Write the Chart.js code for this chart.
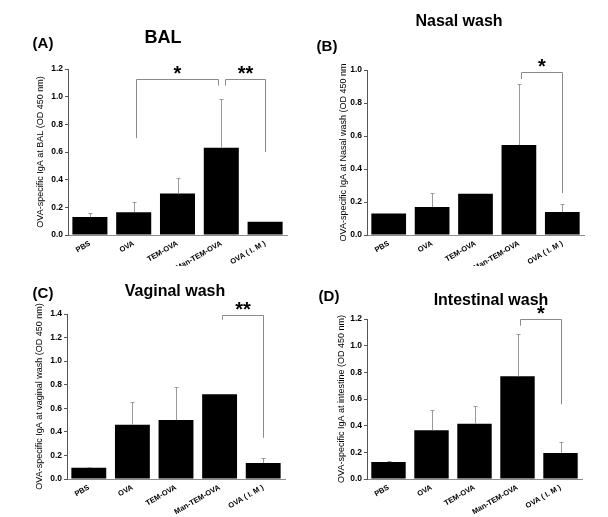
<!DOCTYPE html>
<html>
<head>
<meta charset="utf-8">
<script src="https://cdn.jsdelivr.net/npm/chart.js@4.4.0/dist/chart.umd.min.js"></script>
<style>
  body { margin: 0; background: #fff; width: 608px; height: 517px; position: relative; overflow: hidden;
         font-family: "Liberation Sans", Arial, sans-serif; }
  canvas { position: absolute; }
  .lbl { position: absolute; font-weight: bold; transform: translate(-50%, -50%); white-space: nowrap; color: #000; }
  .tag { font-size: 15px; }
  .ttl { font-size: 16px; }
</style>
</head>
<body>
<canvas id="cA" width="304" height="266" style="left:0;top:0"></canvas>
<canvas id="cB" width="304" height="266" style="left:304px;top:0"></canvas>
<canvas id="cC" width="304" height="259" style="left:0;top:258px"></canvas>
<canvas id="cD" width="304" height="259" style="left:304px;top:258px"></canvas>

<div class="lbl tag" style="left:43px;top:42px">(A)</div>
<div class="lbl ttl" style="left:163px;top:37px;font-size:18px">BAL</div>
<div class="lbl tag" style="left:327px;top:45px">(B)</div>
<div class="lbl ttl" style="left:459px;top:21px">Nasal wash</div>
<div class="lbl tag" style="left:43px;top:292px">(C)</div>
<div class="lbl ttl" style="left:175px;top:291px">Vaginal wash</div>
<div class="lbl tag" style="left:329px;top:295px">(D)</div>
<div class="lbl ttl" style="left:491px;top:300px">Intestinal wash</div>

<script>
    "use strict";

    const groups = ['PBS', 'OVA', 'TEM-OVA', 'Man-TEM-OVA', 'OVA ( I. M )'];

    // mean OD and upper error (SD) for each group
    const balMean = [0.13, 0.165, 0.30, 0.63, 0.095];
    const balSd = [0.03, 0.07, 0.11, 0.35, 0.0];
    const nasalMean = [0.13, 0.17, 0.25, 0.545, 0.14];
    const nasalSd = [0.0, 0.085, 0.0, 0.37, 0.045];
    const vaginalMean = [0.095, 0.46, 0.50, 0.72, 0.135];
    const vaginalSd = [0.01, 0.19, 0.28, 0.0, 0.043];
    const intestMean = [0.127, 0.365, 0.415, 0.77, 0.195];
    const intestSd = [0.008, 0.155, 0.13, 0.32, 0.08];

    // significance brackets: group indices, leg ends and top (OD units)
    const balSig = [
        { from: 1, to: 3, yFrom: 0.70, yTo: 1.08, yTop: 1.128, label: '*' },
        { from: 3, to: 4, yFrom: 1.08, yTo: 0.60, yTop: 1.128, label: '**' }
    ];
    const nasalSig = [{ from: 3, to: 4, yFrom: 0.945, yTo: 0.255, yTop: 0.988, label: '*' }];
    const vaginalSig = [{ from: 3, to: 4, yFrom: 1.35, yTo: 0.35, yTop: 1.39, label: '**' }];
    const intestSig = [{ from: 3, to: 4, yFrom: 1.15, yTo: 0.56, yTop: 1.2, label: '*' }];

    const errorBars = {
        id: 'errorBars',
        afterDatasetsDraw(chart, args, opts) {
            const ctx = chart.ctx;
            const meta = chart.getDatasetMeta(0);
            const y = chart.scales.y;
            const data = chart.data.datasets[0].data;
            ctx.save();
            ctx.strokeStyle = '#9a9a9a';
            ctx.lineWidth = 1;
            meta.data.forEach(function (bar, i) {
                if (!opts.sd[i]) return;
                const x = Math.round(bar.x) + 0.5;
                const y0 = y.getPixelForValue(data[i]);
                const y1 = Math.round(y.getPixelForValue(data[i] + opts.sd[i])) + 0.5;
                ctx.beginPath();
                ctx.moveTo(x, y0);
                ctx.lineTo(x, y1);
                ctx.moveTo(x - 2, y1);
                ctx.lineTo(x + 2, y1);
                ctx.stroke();
            });
            ctx.restore();
        }
    };

    const brackets = {
        id: 'brackets',
        afterDraw(chart, args, opts) {
            const ctx = chart.ctx;
            const meta = chart.getDatasetMeta(0);
            const y = chart.scales.y;
            ctx.save();
            opts.items.forEach(function (b, k) {
                // small gap where two brackets meet on the same bar
                const x1 = Math.round(meta.data[b.from].x + (k > 0 ? 4 : 2)) + 0.5;
                const x2 = Math.round(meta.data[b.to].x - (opts.items.length > 1 && k === 0 ? 3 : 0)) + 0.5;
                const yt = Math.round(y.getPixelForValue(b.yTop)) + 0.5;
                ctx.strokeStyle = '#8a8a8a';
                ctx.lineWidth = 1;
                ctx.beginPath();
                ctx.moveTo(x1, y.getPixelForValue(b.yFrom));
                ctx.lineTo(x1, yt);
                ctx.lineTo(x2, yt);
                ctx.lineTo(x2, y.getPixelForValue(b.yTo));
                ctx.stroke();
                ctx.fillStyle = '#000';
                ctx.font = 'bold 20px "Liberation Sans", Arial, sans-serif';
                ctx.textAlign = 'center';
                ctx.textBaseline = 'middle';
                ctx.fillText(b.label, (x1 + x2) / 2, yt - 5);
            });
            ctx.restore();
        }
    };

    function makePanel(id, means, sds, sig, yMax, yTitle, box) {
        return new Chart(document.getElementById(id), {
            type: 'bar',
            data: {
                labels: groups,
                datasets: [{
                    data: means,
                    backgroundColor: '#000',
                    borderWidth: 0,
                    barPercentage: 0.8,
                    categoryPercentage: 1.0
                }]
            },
            options: {
                responsive: false,
                animation: false,
                devicePixelRatio: 1,
                layout: { padding: { left: 0, top: box.top, right: box.right, bottom: 0 } },
                plugins: {
                    legend: { display: false },
                    tooltip: { enabled: false },
                    errorBars: { sd: sds },
                    brackets: { items: sig }
                },
                scales: {
                    x: {
                        grid: { display: false },
                        border: { display: true, color: '#8c8c8c', width: 1 },
                        ticks: {
                            color: '#000',
                            font: { family: '"Liberation Sans", Arial, sans-serif', size: 7.5, weight: 'bold' },
                            minRotation: 30,
                            maxRotation: 30,
                            autoSkip: false,
                            padding: -4
                        },
                        afterFit: function (scale) { scale.height = box.xh; }
                    },
                    y: {
                        min: 0,
                        max: yMax,
                        grid: { drawOnChartArea: false, drawTicks: true, tickLength: 3, color: '#555' },
                        border: { display: true, color: '#555', width: 1 },
                        ticks: {
                            stepSize: 0.2,
                            color: '#000',
                            padding: 2,
                            font: { family: '"Liberation Sans", Arial, sans-serif', size: 8.5, weight: 'bold' },
                            callback: function (v) { return v.toFixed(1); }
                        },
                        title: {
                            display: true,
                            text: yTitle,
                            color: '#000',
                            font: { family: '"Liberation Sans", Arial, sans-serif', size: 9 },
                            padding: { top: box.tp, bottom: 0 }
                        },
                        afterFit: function (scale) { scale.width = box.yw; }
                    }
                }
            },
            plugins: [errorBars, brackets]
        });
    }

    makePanel('cA', balMean, balSd, balSig, 1.2, 'OVA-specific IgA at BAL (OD 450 nm)',
        { top: 69, right: 17, yw: 68, xh: 31, tp: 35 });
    makePanel('cB', nasalMean, nasalSd, nasalSig, 1.0, 'OVA-specific IgA at Nasal wash (OD 450 nm',
        { top: 70, right: 24, yw: 63, xh: 31, tp: 34 });
    makePanel('cC', vaginalMean, vaginalSd, vaginalSig, 1.4, 'OVA-specific IgA at vaginal wash (OD 450 nm)',
        { top: 56, right: 19, yw: 67, xh: 38, tp: 34 });
    makePanel('cD', intestMean, intestSd, intestSig, 1.2, 'OVA-specific IgA at intestine (OD 450 nm)',
        { top: 61, right: 26, yw: 63, xh: 38, tp: 32 });
</script>
</body>
</html>
